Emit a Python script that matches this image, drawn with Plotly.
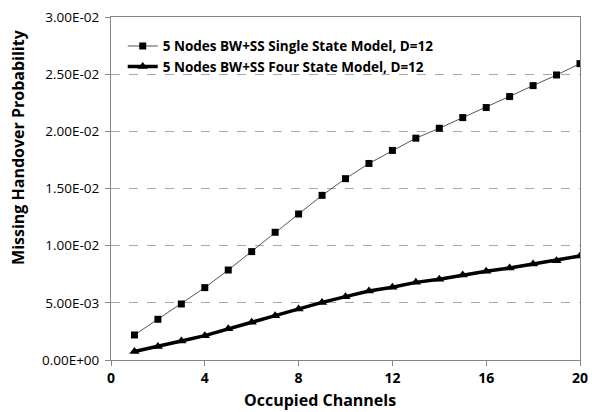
import plotly.graph_objects as go

channels = list(range(1, 21))
single_state = [0.00219, 0.00356, 0.00490, 0.00633, 0.00787, 0.00948, 0.01117, 0.01277,
                0.01440, 0.01586, 0.01719, 0.01833, 0.01940, 0.02027, 0.02120, 0.02208,
                0.02304, 0.02400, 0.02493, 0.02592]
four_state = [0.00075, 0.00117, 0.00166, 0.00213, 0.00274, 0.00330, 0.00388, 0.00446,
              0.00504, 0.00554, 0.00603, 0.00636, 0.00679, 0.00706, 0.00743, 0.00776,
              0.00805, 0.00840, 0.00869, 0.00910]
y_tickvals = [0, 0.005, 0.01, 0.015, 0.02, 0.025, 0.03]
y_ticktext = ["0.00E+00", "5.00E-03", "1.00E-02", "1.50E-02", "2.00E-02", "2.50E-02", "3.00E-02"]
x_tickvals = [0, 4, 8, 12, 16, 20]
name_single = "5 Nodes BW+SS Single State Model, D=12"
name_four = "5 Nodes BW+SS Four State Model, D=12"
x_title = "Occupied Channels"
y_title = "Missing Handover Probability"

FONT = "'Open Sans', sans-serif"

fig = go.Figure()
fig.add_trace(go.Scatter(
    x=channels, y=single_state, name=name_single, mode="lines+markers",
    line=dict(color="#555555", width=1),
    marker=dict(symbol="square", size=7, color="black"),
))
fig.add_trace(go.Scatter(
    x=channels, y=four_state, name=name_four, mode="lines+markers",
    line=dict(color="black", width=3.5),
    marker=dict(symbol="triangle-up", size=9, color="black"),
))

fig.update_layout(
    width=592, height=412,
    margin=dict(l=111, r=12, t=17, b=52),
    paper_bgcolor="white", plot_bgcolor="white",
    font=dict(family=FONT, size=13, color="black"),
    showlegend=True,
    legend=dict(x=0.025, y=0.96, xanchor="left", yanchor="top",
                bgcolor="rgba(0,0,0,0)", itemwidth=30, tracegroupgap=0,
                font=dict(family=FONT, size=13.5, color="black", weight="bold")),
    xaxis=dict(
        range=[0, 20], tickvals=x_tickvals, showgrid=False, zeroline=False,
        showline=True, linecolor="#868686", linewidth=1, mirror=True,
        ticks="outside", ticklen=5, tickcolor="#868686",
        tickfont=dict(family=FONT, size=14, weight="bold"),
        automargin=False,
    ),
    yaxis=dict(
        range=[0, 0.03], tickvals=y_tickvals, ticktext=y_ticktext,
        showgrid=True, gridcolor="#a8a8a8", griddash="dash", gridwidth=1, zeroline=False,
        showline=True, linecolor="#868686", linewidth=1, mirror=True,
        ticks="outside", ticklen=5, tickcolor="#868686",
        tickfont=dict(family=FONT, size=13.5), ticklabelstandoff=3,
        automargin=False,
    ),
    annotations=[
        dict(text=x_title, xref="paper", yref="paper", x=0.446, y=-0.1516,
             xanchor="center", yanchor="bottom", showarrow=False, borderpad=0,
             font=dict(family=FONT, size=16, weight="bold")),
        dict(text=y_title, xref="paper", yref="paper", x=-0.197, y=0.62,
             xanchor="center", yanchor="middle", textangle=-90, showarrow=False,
             font=dict(family=FONT, size=16, weight="bold")),
    ],
)

fig.write_html("out.html")
